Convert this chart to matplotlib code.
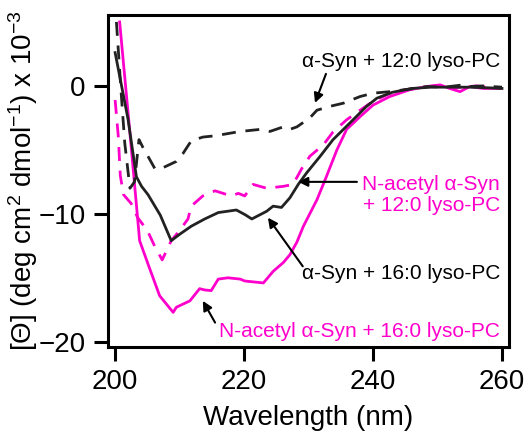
import matplotlib
matplotlib.use("Agg")
import matplotlib.pyplot as plt

plt.rcParams['font.family'] = ['Liberation Sans', 'DejaVu Sans']
plt.rcParams['mathtext.default'] = 'regular'

MAGENTA = '#ff00cc'
BLACK = '#222222'

# alpha-Syn + 16:0 lyso-PC (black solid)
a16_x = [200.0, 202.0, 203.3, 204.1, 205.1, 207.0, 208.7, 210.0, 211.8, 213.9,
         216.0, 218.8, 220.1, 221.2, 223.5, 224.5, 225.8, 227.1, 228.4, 229.7,
         231.8, 233.8, 236.4, 239.0, 240.6, 243.0, 246.0, 249.0, 252.0, 255.0,
         258.0, 260.0]
a16_y = [2.6, -2.6, -7.1, -7.85, -8.5, -10.1, -12.1, -11.6, -10.97, -10.4,
         -9.9, -9.7, -10.05, -10.4, -9.8, -9.4, -9.5, -8.75, -7.7, -6.8,
         -5.5, -4.2, -2.9, -1.6, -0.96, -0.5, -0.2, -0.1, -0.1, -0.1,
         -0.15, -0.2]

# alpha-Syn + 12:0 lyso-PC (black dashed)
a12_x = [200.2, 201.0, 201.5, 202.3, 203.0, 203.7, 204.3, 205.2, 206.2, 207.4,
         209.5, 210.5, 211.8, 213.6, 215.5, 217.8, 219.4, 222.5, 224.0, 226.1,
         227.1, 228.2, 230.2, 231.3, 233.3, 235.4, 238.0, 240.0, 242.6, 245.7,
         248.3, 251.0, 253.5, 255.0, 257.0, 260.0]
a12_y = [5.0, -1.0, -4.5, -8.0, -7.5, -4.2, -4.8, -5.6, -6.5, -6.4,
         -5.9, -5.3, -4.3, -4.0, -3.9, -3.7, -3.56, -3.4, -3.56, -3.2,
         -3.4, -3.2, -2.5, -1.9, -1.6, -1.35, -0.83, -0.57, -0.45, -0.25,
         -0.05, -0.1, 0.05, -0.05, 0.0, -0.1]

# N-acetyl alpha-Syn + 12:0 lyso-PC (magenta dashed)
n12_x = [200.0, 200.5, 200.8, 201.3, 202.5, 203.5, 205.0, 206.2, 207.3, 208.7,
         210.0, 211.3, 211.8, 213.6, 215.5, 218.0, 219.1, 220.1, 221.4, 223.5,
         226.1, 227.6, 228.9, 230.2, 232.3, 233.8, 235.9, 238.0, 240.0, 242.5,
         245.0, 248.0, 250.5, 252.0, 254.0, 256.0, 258.0, 260.0]
n12_y = [-1.1, -4.0, -7.0, -8.5, -9.2, -10.3, -11.3, -12.6, -13.6, -12.1,
         -11.3, -10.4, -9.4, -8.6, -8.2, -8.6, -8.4, -8.6, -7.7, -8.0,
         -7.85, -7.7, -6.5, -5.5, -4.6, -3.6, -2.65, -1.9, -1.2, -0.6,
         -0.3, -0.1, 0.05, -0.15, -0.1, 0.0, -0.1, -0.15]

# N-acetyl alpha-Syn + 16:0 lyso-PC (magenta solid)
n16_x = [200.7, 202.3, 203.8, 205.3, 206.9, 209.0, 209.5, 211.6, 213.1, 213.9,
         214.9, 216.0, 217.5, 219.4, 220.1, 223.0, 224.5, 226.1, 227.1, 228.2,
         229.2, 231.3, 232.6, 234.4, 235.9, 238.0, 240.0, 242.6, 245.7, 248.3,
         250.4, 251.9, 253.5, 255.0, 257.1, 259.7]
n16_y = [5.0, -3.7, -12.1, -14.2, -16.4, -17.7, -17.3, -16.8, -15.85, -15.95,
         -16.0, -15.1, -15.0, -15.1, -15.25, -15.4, -14.5, -13.8, -13.2, -12.2,
         -10.97, -8.9, -7.3, -5.0, -3.4, -2.4, -1.5, -0.83, -0.3, -0.05,
         0.08, -0.2, -0.45, -0.05, -0.2, -0.2]

fig = plt.figure(figsize=(5.27, 4.38), dpi=100)
ax = fig.add_axes([0.205, 0.208, 0.761, 0.758])

lw = 2.0
ax.plot(n16_x, n16_y, color=MAGENTA, lw=lw)
ax.plot(n12_x, n12_y, color=MAGENTA, lw=lw, dashes=(5, 3.5))
ax.plot(a16_x, a16_y, color=BLACK, lw=lw)
ax.plot(a12_x, a12_y, color=BLACK, lw=lw, dashes=(5, 3.5))

ax.set_xlim(198.9, 261.1)
ax.set_ylim(-20.4, 5.55)
ax.set_xticks([200, 220, 240, 260])
ax.set_yticks([0, -10, -20])

for s in ax.spines.values():
    s.set_linewidth(2.2)
ax.tick_params(direction='out', length=10, width=2.2, labelsize=20, pad=6)

ax.set_xlabel('Wavelength (nm)', fontsize=20, labelpad=7)
ax.set_ylabel('[Θ] (deg cm$^2$ dmol$^{-1}$) x 10$^{-3}$', fontsize=20, labelpad=-1)

arrow = dict(arrowstyle='-|>', color='black', lw=1.5, mutation_scale=14,
             shrinkA=0, shrinkB=0)
fs = 15
ax.text(259.7, 1.9, 'α-Syn + 12:0 lyso-PC', ha='right', va='center',
        fontsize=fs, color='black')
ax.annotate('', xy=(231.0, -1.33), xytext=(232.7, 0.94), arrowprops=arrow)

ax.text(259.7, -8.5, 'N-acetyl α-Syn\n+ 12:0 lyso-PC', ha='right', va='center',
        fontsize=fs, color=MAGENTA, linespacing=1.15)
ax.annotate('', xy=(228.4, -7.5), xytext=(237.5, -7.5), arrowprops=arrow)

ax.text(259.7, -14.7, 'α-Syn + 16:0 lyso-PC', ha='right', va='center',
        fontsize=fs, color='black')
ax.annotate('', xy=(223.7, -10.3), xytext=(229.1, -14.1), arrowprops=arrow)

ax.text(259.7, -19.2, 'N-acetyl α-Syn + 16:0 lyso-PC', ha='right', va='center',
        fontsize=fs, color=MAGENTA)
ax.annotate('', xy=(213.6, -16.8), xytext=(215.5, -18.5), arrowprops=arrow)

fig.savefig('out.png', dpi=100)
